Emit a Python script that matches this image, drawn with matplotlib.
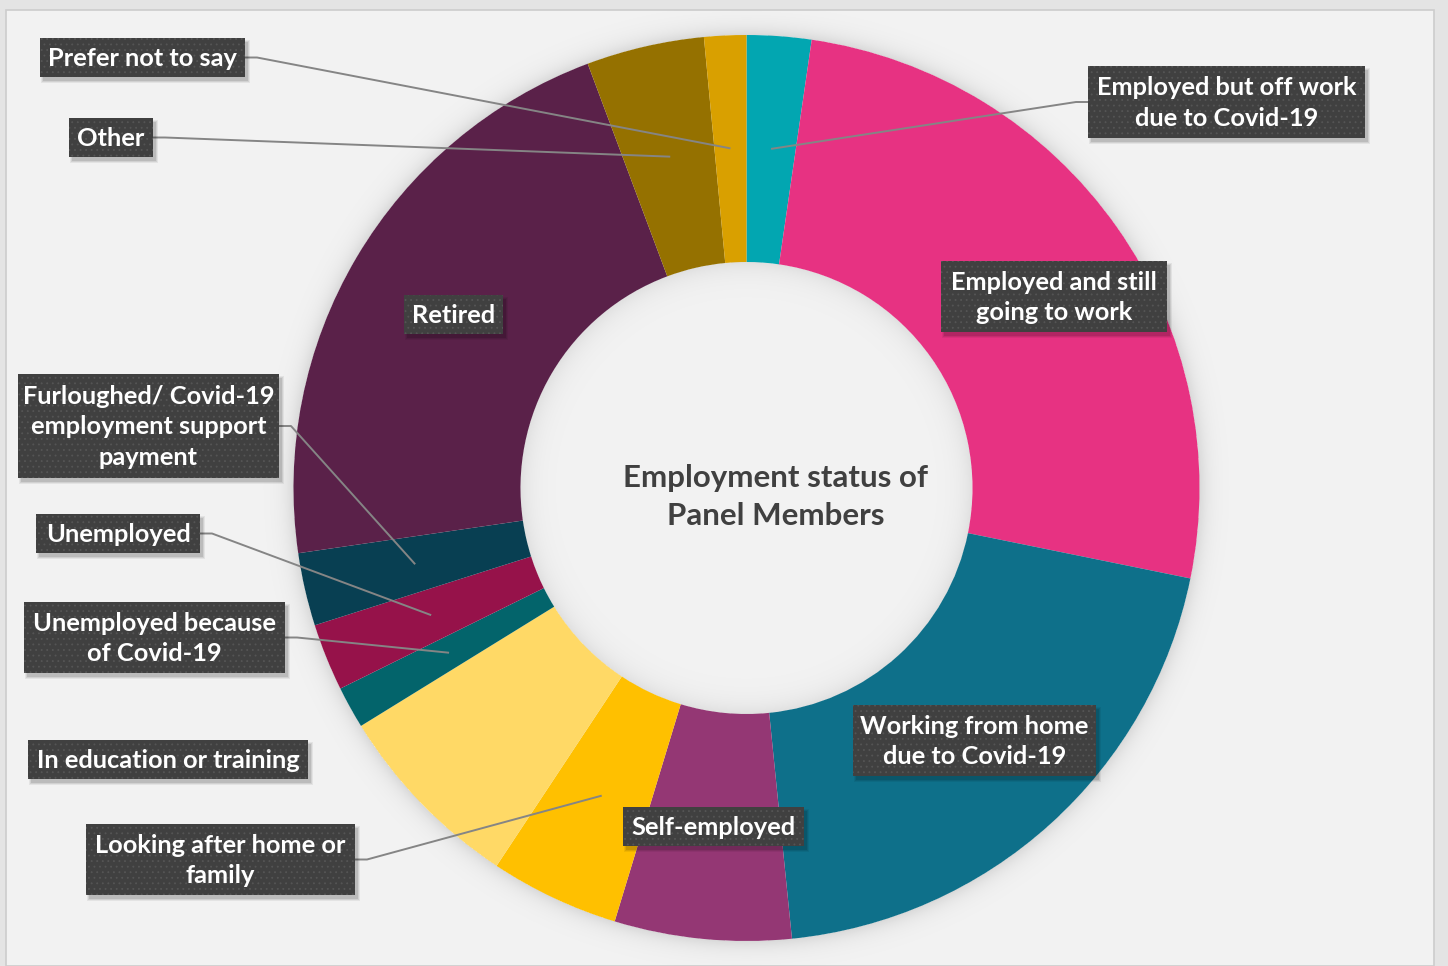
import numpy as np
import matplotlib
matplotlib.use("Agg")
import matplotlib.pyplot as plt
from matplotlib.patches import Rectangle

W, H = 1448, 966

categories = [
    "Employed but off work\ndue to Covid-19",
    "Employed and still\ngoing to work",
    "Working from home\ndue to Covid-19",
    "Self-employed",
    "Looking after home or\nfamily",
    "In education or training",
    "Unemployed because\nof Covid-19",
    "Unemployed",
    "Furloughed/ Covid-19\nemployment support\npayment",
    "Retired",
    "Other",
    "Prefer not to say",
]
shares = [2.3, 25.9, 20.2, 6.3, 4.6, 6.9, 1.5, 2.4, 2.6, 21.6, 4.2, 1.5]
colors = [
    "#02A6B1", "#E73282", "#0E708A", "#943774", "#FFC000", "#FFD966",
    "#03646B", "#96124A", "#083F52", "#5A2149", "#957100", "#D9A000",
]
title = "Employment status of\nPanel Members"

# geometry (pixel space, y measured downward from the top)
CX, CY = 746.5, 488.0
R_OUT, R_IN = 453.0, 226.0
R_LAB = 340.0

# label boxes: (centre x, centre y, width, height, leader side) ; None centre = inside its slice
boxes = {
    0: (1226.5, 102.0, 277, 72, "left"),
    1: (1054.0, 296.5, 226, 71, None),
    2: (None, None, 243, 71, None),
    3: (None, None, 181, 39, None),
    4: (220.5, 859.5, 269, 71, "right"),
    5: (168.0, 759.5, 280, 39, "none"),
    6: (154.5, 637.5, 261, 71, "right"),
    7: (118.0, 533.5, 164, 39, "right"),
    8: (148.5, 426.0, 261, 104, "right"),
    9: (None, None, 99, 39, None),
    10: (111.0, 137.5, 84, 39, "right"),
    11: (142.5, 57.5, 205, 39, "right"),
}

plt.rcParams["font.family"] = ["Lato", "DejaVu Sans"]
plt.rcParams["hatch.linewidth"] = 0.6

fig = plt.figure(figsize=(W / 100, H / 100), dpi=100, facecolor="#e4e4e4")
ax = fig.add_axes([0, 0, 1, 1])
ax.set_axis_off()


def P(x, y):
    return x, H - y


# panel
ax.add_patch(Rectangle(P(6, H), W - 6 - 14, H - 10, facecolor="#f2f2f2",
                       edgecolor="#cccccc", linewidth=1.2, zorder=0))

# soft shading around the ring and inside the hole
yy, xx = np.mgrid[0:H, 0:W] + 0.5
d = np.hypot(xx - CX, yy - CY)
alpha = np.zeros_like(d)
out = d > R_OUT
alpha[out] = 0.11 * np.exp(-(d[out] - R_OUT) / 9.0)
inn = d < R_IN
alpha[inn] = 0.075 * np.exp(-(R_IN - d[inn]) / 12.0)
panel = (xx > 7) & (xx < W - 15) & (yy > 10)
alpha[~panel] = 0
shade = np.zeros((H, W, 4))
shade[..., 3] = alpha
ax.imshow(shade, extent=(0, W, 0, H), origin="upper", zorder=1, interpolation="bilinear")

wedges, _ = ax.pie(shares, colors=colors, startangle=90, counterclock=False,
                   radius=R_OUT, center=P(CX, CY),
                   wedgeprops=dict(width=R_OUT - R_IN, linewidth=0, zorder=2))
for w in wedges:
    w.set_zorder(2)

ax.set_xlim(0, W)
ax.set_ylim(0, H)
ax.set_aspect("equal")


def box(cx, cy, bw, bh, text):
    x0, y0 = cx - bw / 2, cy + bh / 2  # bottom-left in pixel-down coords
    bx, by = P(x0, y0)
    for k, a in enumerate([0.10, 0.08, 0.06]):
        ax.add_patch(Rectangle((bx + 3 - k, by - 4 - k), bw + 2 * k, bh + 2 * k,
                               facecolor="black", alpha=a, linewidth=0, zorder=5))
    ax.add_patch(Rectangle((bx, by), bw, bh, facecolor="#404040",
                           edgecolor="none", linewidth=0, zorder=6))
    ax.add_patch(Rectangle((bx, by), bw, bh, fill=False, hatch="...",
                           edgecolor="#555555", linewidth=0, zorder=6))
    ax.text(*P(cx, cy + 1), text, color="white", fontsize=18.3, fontweight="bold",
            ha="center", va="center", linespacing=1.38, zorder=7)


for i, w in enumerate(wedges):
    mid = np.deg2rad((w.theta1 + w.theta2) / 2)
    ax_pt = (w.center[0] + R_LAB * np.cos(mid), w.center[1] + R_LAB * np.sin(mid))
    cx, cy, bw, bh, side = boxes[i]
    if cx is None:
        cx, cy = ax_pt[0], H - ax_pt[1]
    if side in ("left", "right"):
        sgn = 1 if side == "right" else -1
        ex = cx + sgn * bw / 2
        xs = [ex, ex + sgn * 12, ax_pt[0]]
        ys = [H - cy, H - cy, ax_pt[1]]
        ax.plot(xs, ys, color="#858585", linewidth=1.4, zorder=4,
                solid_capstyle="butt")
    box(cx, cy, bw, bh, categories[i])

ax.text(*P(CX + 29, CY + 9), title, color="#404040", fontsize=22.5,
        fontweight="bold", ha="center", va="center", linespacing=1.42, zorder=3)

fig.savefig("out.png", dpi=100, facecolor=fig.get_facecolor())
